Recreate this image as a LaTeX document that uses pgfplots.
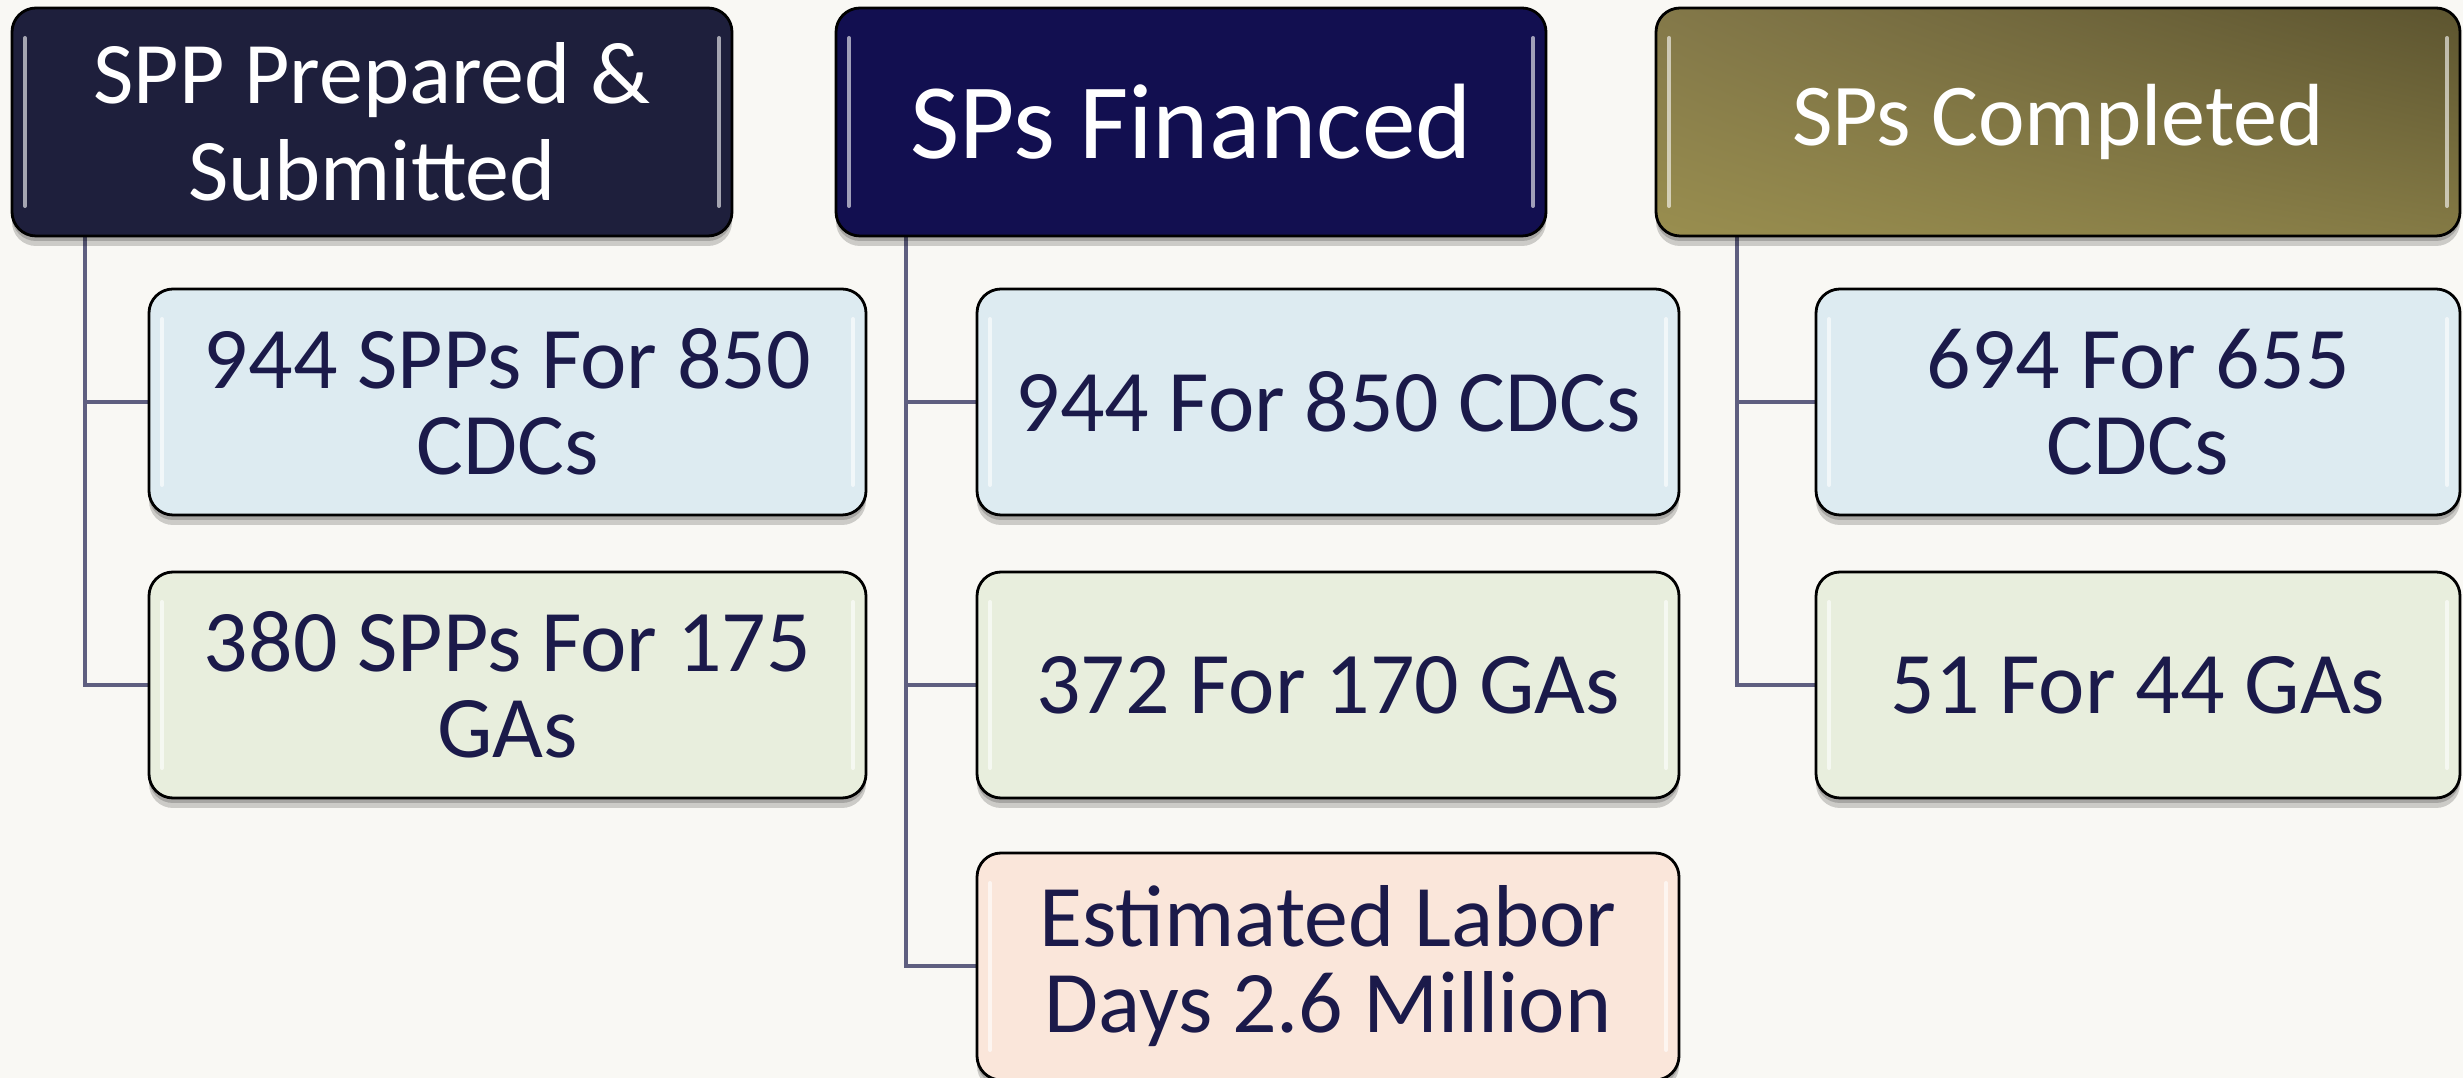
\documentclass[border=0pt]{standalone}
\usepackage{pgfplots}
\pgfplotsset{compat=1.18}
\usepackage{fontspec}
\setmainfont{Carlito}
\usetikzlibrary{calc,shadings}
\definecolor{bg}{HTML}{F9F8F4}
\definecolor{hdone}{HTML}{1E1F3C}
\definecolor{hdtwo}{HTML}{120F50}
\definecolor{oliveUL}{HTML}{837849}
\definecolor{oliveUR}{HTML}{5C542F}
\definecolor{oliveLL}{HTML}{998E4F}
\definecolor{oliveLR}{HTML}{847A45}
\definecolor{cblue}{HTML}{DDEBF1}
\definecolor{cgreen}{HTML}{E8EEDD}
\definecolor{cpeach}{HTML}{FAE6DA}
\definecolor{ink}{HTML}{1B1A4A}
\definecolor{conn}{HTML}{5F5F80}

% x1 y1 x2 y2 fill-options text-options text
\newcommand{\spbox}[7]{%
  \fill[black, opacity=0.18, rounded corners=2.4mm, yshift=-1.0mm] (axis cs:#1,#2) rectangle (axis cs:#3,#4);
  \fill[black, opacity=0.18, rounded corners=2.4mm, yshift=-0.5mm] (axis cs:#1,#2) rectangle (axis cs:#3,#4);
  \path[#5, rounded corners=2.4mm] (axis cs:#1,#2) rectangle (axis cs:#3,#4);
  \draw[black, line width=0.28mm, rounded corners=2.4mm] (axis cs:#1,#2) rectangle (axis cs:#3,#4);
  \draw[white, opacity=0.6, line width=0.4mm, line cap=round]
    ([xshift=1.3mm,yshift=-3mm]axis cs:#1,#2) -- ([xshift=1.3mm,yshift=3mm]axis cs:#1,#4);
  \draw[white, opacity=0.6, line width=0.4mm, line cap=round]
    ([xshift=-1.3mm,yshift=-3mm]axis cs:#3,#2) -- ([xshift=-1.3mm,yshift=3mm]axis cs:#3,#4);
  \node[align=center, #6] at ($(axis cs:#1,#2)!0.5!(axis cs:#3,#4)$) {#7};
}

\begin{document}
\begin{tikzpicture}
\begin{axis}[
  scale only axis,
  width=246.3mm, height=107.8mm,
  xmin=0, xmax=2463, ymin=0, ymax=1078,
  y dir=reverse,
  hide axis,
  clip=true,
]
\fill[bg] (axis cs:0,0) rectangle (axis cs:2463,1078);

% connectors
\addplot[conn, line width=0.4mm] coordinates {(85,236) (85,685) (149,685)};
\addplot[conn, line width=0.4mm] coordinates {(85,402) (149,402)};
\addplot[conn, line width=0.4mm] coordinates {(906,236) (906,966) (977,966)};
\addplot[conn, line width=0.4mm] coordinates {(906,402) (977,402)};
\addplot[conn, line width=0.4mm] coordinates {(906,685) (977,685)};
\addplot[conn, line width=0.4mm] coordinates {(1737,236) (1737,685) (1816,685)};
\addplot[conn, line width=0.4mm] coordinates {(1737,402) (1816,402)};

% headers
\spbox{12}{8}{732}{236}{fill=hdone}{text=white, font=\fontsize{25}{27.5}\selectfont}{SPP Prepared \&\\Submitted}
\spbox{836}{8}{1546}{236}{fill=hdtwo}{text=white, font=\fontsize{30.5}{33}\selectfont}{SPs Financed}
\spbox{1656}{8}{2460}{236}{upper left=oliveUL, upper right=oliveUR, lower left=oliveLL, lower right=oliveLR}{text=white, font=\fontsize{25.1}{27}\selectfont}{SPs Completed}

% column 1
\spbox{149}{289}{866}{515}{fill=cblue}{text=ink, font=\fontsize{25}{24.5}\selectfont}{944 SPPs For 850\\CDCs}
\spbox{149}{572}{866}{798}{fill=cgreen}{text=ink, font=\fontsize{25}{24.5}\selectfont}{380 SPPs For 175\\GAs}

% column 2
\spbox{977}{289}{1679}{515}{fill=cblue}{text=ink, font=\fontsize{25}{24.5}\selectfont}{944 For 850 CDCs}
\spbox{977}{572}{1679}{798}{fill=cgreen}{text=ink, font=\fontsize{25}{24.5}\selectfont}{372 For 170 GAs}
\spbox{977}{853}{1679}{1080}{fill=cpeach}{text=ink, font=\fontsize{25}{24.5}\selectfont}{Estimated Labor\\Days 2.6 Million}

% column 3
\spbox{1816}{289}{2460}{515}{fill=cblue}{text=ink, font=\fontsize{25}{24.5}\selectfont}{694 For 655\\CDCs}
\spbox{1816}{572}{2460}{798}{fill=cgreen}{text=ink, font=\fontsize{25}{24.5}\selectfont}{51 For 44 GAs}
\end{axis}
\end{tikzpicture}
\end{document}
